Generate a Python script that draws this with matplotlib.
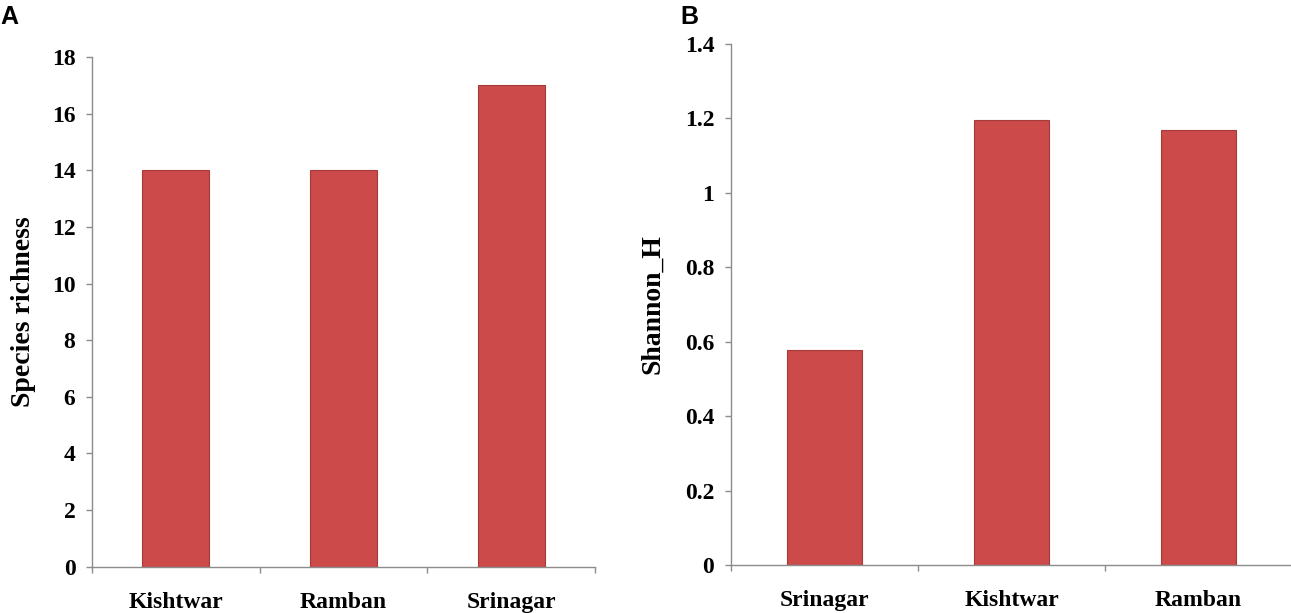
import matplotlib
matplotlib.use("Agg")
import matplotlib.pyplot as plt

# panel A: species richness
sites_a = ["Kishtwar", "Ramban", "Srinagar"]
richness = [14, 14, 17]

# panel B: Shannon index
sites_b = ["Srinagar", "Kishtwar", "Ramban"]
shannon = [0.578, 1.195, 1.17]

bar_col = "#CC4A4A"
edge_col = "#A43A3A"
axis_col = "#8C8C8C"

plt.rcParams["font.family"] = ["Liberation Serif", "DejaVu Serif"]
plt.rcParams["font.weight"] = "bold"

fig = plt.figure(figsize=(12.91, 6.13), dpi=100)
axA = fig.add_axes([0.0713, 0.0755, 0.3896, 0.8315])
axB = fig.add_axes([0.5662, 0.0783, 0.4346, 0.8499])


def style(ax, names, vals, ymax, ystep, ylabel, fmt, lpad):
    pos = list(range(len(names)))
    ax.bar(pos, vals, width=0.4, color=bar_col, edgecolor=edge_col, linewidth=0.8)
    ax.set_xlim(-0.5, len(names) - 0.5)
    ax.set_ylim(0, ymax)
    n = int(round(ymax / ystep))
    yt = [i * ystep for i in range(n + 1)]
    ax.set_yticks(yt, [fmt(v) for v in yt])
    ax.set_xticks(pos, names)
    ax.set_xticks([p - 0.5 for p in pos] + [len(names) - 0.5], minor=True)
    ax.tick_params(axis="x", which="major", length=0, pad=18, labelsize=17)
    ax.tick_params(axis="x", which="minor", length=4, color=axis_col, width=1)
    ax.tick_params(axis="y", length=4, color=axis_col, width=1, pad=8, labelsize=17)
    for s in ["top", "right"]:
        ax.spines[s].set_visible(False)
    for s in ["left", "bottom"]:
        ax.spines[s].set_color(axis_col)
        ax.spines[s].set_linewidth(1)
    ax.set_ylabel(ylabel, fontsize=20, fontweight="bold", labelpad=lpad)


def fmt_a(v):
    return "%d" % round(v)


def fmt_b(v):
    v = round(v, 1)
    if v == int(v):
        return "%d" % v
    return "%g" % v


style(axA, sites_a, richness, 18, 2, "Species richness", fmt_a, 11)
style(axB, sites_b, shannon, 1.4, 0.2, "Shannon_H", fmt_b, 14)

fig.text(0.0, 0.973, "A", fontsize=18, fontweight="bold", family="Liberation Sans", va="center")
fig.text(0.527, 0.973, "B", fontsize=18, fontweight="bold", family="Liberation Sans", va="center")

fig.savefig("out.png", dpi=100)
